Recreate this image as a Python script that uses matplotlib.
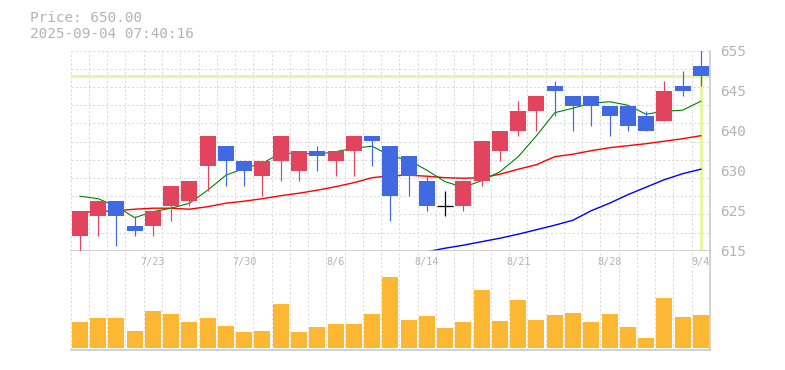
import numpy as np
import matplotlib.pyplot as plt
from matplotlib.transforms import blended_transform_factory

# trading days shown (2025-07-16 .. 2025-09-04)
dates = ['7/16', '7/17', '7/18', '7/22', '7/23', '7/24', '7/25', '7/28', '7/29', '7/30',
         '7/31', '8/1', '8/4', '8/5', '8/6', '8/7', '8/8', '8/12', '8/13', '8/14',
         '8/15', '8/18', '8/19', '8/20', '8/21', '8/22', '8/25', '8/26', '8/27', '8/28',
         '8/29', '9/1', '9/2', '9/3', '9/4']

opens = [618, 622, 625, 620, 620, 624, 625, 632, 636, 633, 630, 633, 631, 635, 633, 635, 638, 636,
         634, 629, 624, 624, 629, 635, 639, 643, 648, 646, 646, 644, 644, 642, 641, 648, 652]
closes = [623, 625, 622, 619, 623, 628, 629, 638, 633, 631, 633, 638, 635, 634, 635, 638, 637, 626,
          630, 624, 624, 629, 637, 639, 643, 646, 647, 644, 644, 642, 640, 639, 647, 647, 650]
highs = [623, 625, 625, 622, 623, 628, 629, 638, 636, 633, 633, 638, 635, 636, 635, 638, 638, 636,
         634, 630, 627, 629, 637, 639, 645, 646, 649, 646, 646, 644, 644, 643, 649, 651, 656]
lows = [615, 618, 616, 618, 618, 621, 624, 627, 628, 628, 626, 629, 629, 631, 630, 630, 632, 621,
        626, 623, 622, 623, 628, 633, 638, 639, 642, 639, 640, 638, 639, 639, 641, 646, 648]

# moving averages (5 / 25 / 75 day)
ma5 = [625.9, 625.4, 623.9, 621.6, 622.8, 623.5, 624.5, 627.1, 630.1, 631.5, 632.5, 634.5,
       634.5, 634.3, 634.8, 635.5, 635.9, 634.0, 633.1, 631.1, 628.8, 627.7, 629.0, 630.8,
       633.8, 638.0, 642.6, 643.5, 644.5, 644.8, 644.1, 642.3, 642.9, 643.1, 644.9]
ma25 = [622.7, 622.8, 623.0, 623.3, 623.5, 623.5, 623.3, 623.8, 624.5, 624.9, 625.4, 626.0,
        626.5, 627.1, 627.8, 628.6, 629.6, 630.0, 630.1, 629.9, 629.6, 629.5, 629.6, 630.3,
        631.3, 632.2, 633.8, 634.3, 635.0, 635.6, 636.0, 636.4, 636.9, 637.4, 638.0]
ma75 = [np.nan] * 19 + [614.8, 615.5, 616.1, 616.8, 617.5, 618.3, 619.2, 620.1, 621.1,
                        623.0, 624.5, 626.2, 627.7, 629.2, 630.4, 631.3]

# volume, hundreds of shares
volume = [257, 297, 297, 167, 367, 337, 257, 297, 217, 157, 167, 437, 157, 207, 237, 237, 337, 707,
          277, 317, 197, 257, 577, 267, 477, 277, 327, 347, 257, 337, 207, 97, 497, 307, 327]

price_ticks = [615, 623, 631, 639, 647, 655]
price_labels = ['615', '625', '630', '640', '645', '655']
current_price = closes[-1]
timestamp = '2025-09-04 07:40:16'

UP, DOWN, FLAT = '#e2445e', '#4169e1', '#000000'
GRID = '#d9d9d9'
TEXT = '#b4b4b4'
SPINE = '#c4c4c4'
PRICE_LINE = '#e6f5a6'
VOL = '#fdb833'

W, H = 785, 370
fig = plt.figure(figsize=(W / 100, H / 100), dpi=100)
left, right = 70.7, 710.0
p_top, p_bot = 50.7, 250.7
v_bot = 350.0
ax = fig.add_axes([left / W, 1 - p_bot / H, (right - left) / W, (p_bot - p_top) / H])
axv = fig.add_axes([left / W, 1 - v_bot / H, (right - left) / W, (v_bot - p_bot) / H])

n = len(dates)
x = np.arange(n)
bw = 16 / 18.27
px = 0.72  # one pixel in points
dash = (0, (3 * px / 1.0, 3 * px / 1.0))

for a in (ax, axv):
    a.set_xlim(-0.5, n - 0.5)
    for s in ('top', 'left'):
        a.spines[s].set_visible(False)
    for s in ('bottom', 'right'):
        a.spines[s].set_color(SPINE)
        a.spines[s].set_linewidth(1.5 * px)
    a.set_xticks([])
    a.vlines(np.arange(-0.5, n, 1.0), 0, 1, transform=blended_transform_factory(a.transData, a.transAxes),
             colors=GRID, lw=px, linestyles=dash, zorder=0)

# price panel
ax.set_ylim(615, 655)
ax.hlines(615 + np.arange(12) * 40 / 11, -0.5, n - 0.5, colors=GRID, lw=px, linestyles=dash, zorder=0)
ax.axhline(current_price, color=PRICE_LINE, lw=3 * px, zorder=1)
ax.vlines(x[-1], 615, current_price, color=PRICE_LINE, lw=3 * px, zorder=1)

ax.plot(x, ma75, color='#0000ff', lw=1.4 * px, zorder=2)
ax.plot(x, ma25, color='#ff0000', lw=1.4 * px, zorder=2)
ax.plot(x, ma5, color='#008000', lw=1.1 * px, zorder=2)

for i in range(n):
    o, c = opens[i], closes[i]
    col = UP if c > o else DOWN if c < o else FLAT
    ax.vlines(i, lows[i], highs[i], color=col, lw=1.2 * px, zorder=3)
    if c == o:
        ax.hlines(o, i - bw / 2, i + bw / 2, color=col, lw=1.3 * px, zorder=4)
    else:
        ax.bar(i, c - o, bottom=o, width=bw, color=col, lw=0, zorder=4)

ax.yaxis.tick_right()
ax.set_yticks(price_ticks)
ax.set_yticklabels(price_labels, family='DejaVu Sans Mono', fontsize=10.4, color=TEXT)
ax.tick_params(axis='y', length=0, pad=7.5)

# volume panel
axv.set_ylim(-20, 973)
axv.set_yticks([])
axv.bar(x, volume, width=bw, color=VOL, lw=0, zorder=2)
tr = blended_transform_factory(axv.transData, axv.transAxes)
for i in range(4, n, 5):
    axv.text(i, (v_bot - 262.5) / (v_bot - p_bot), dates[i], transform=tr, ha='center', va='center',
             family='DejaVu Sans Mono', fontsize=7.3, color=TEXT, zorder=3)

fig.text(30 / W, 1 - 18.3 / H, f'Price: {current_price:.2f}', family='DejaVu Sans Mono',
         fontsize=10.4, color=TEXT, va='center')
fig.text(30 / W, 1 - 33.5 / H, timestamp, family='DejaVu Sans Mono',
         fontsize=10.4, color=TEXT, va='center')

fig.savefig('out.png', dpi=100)
